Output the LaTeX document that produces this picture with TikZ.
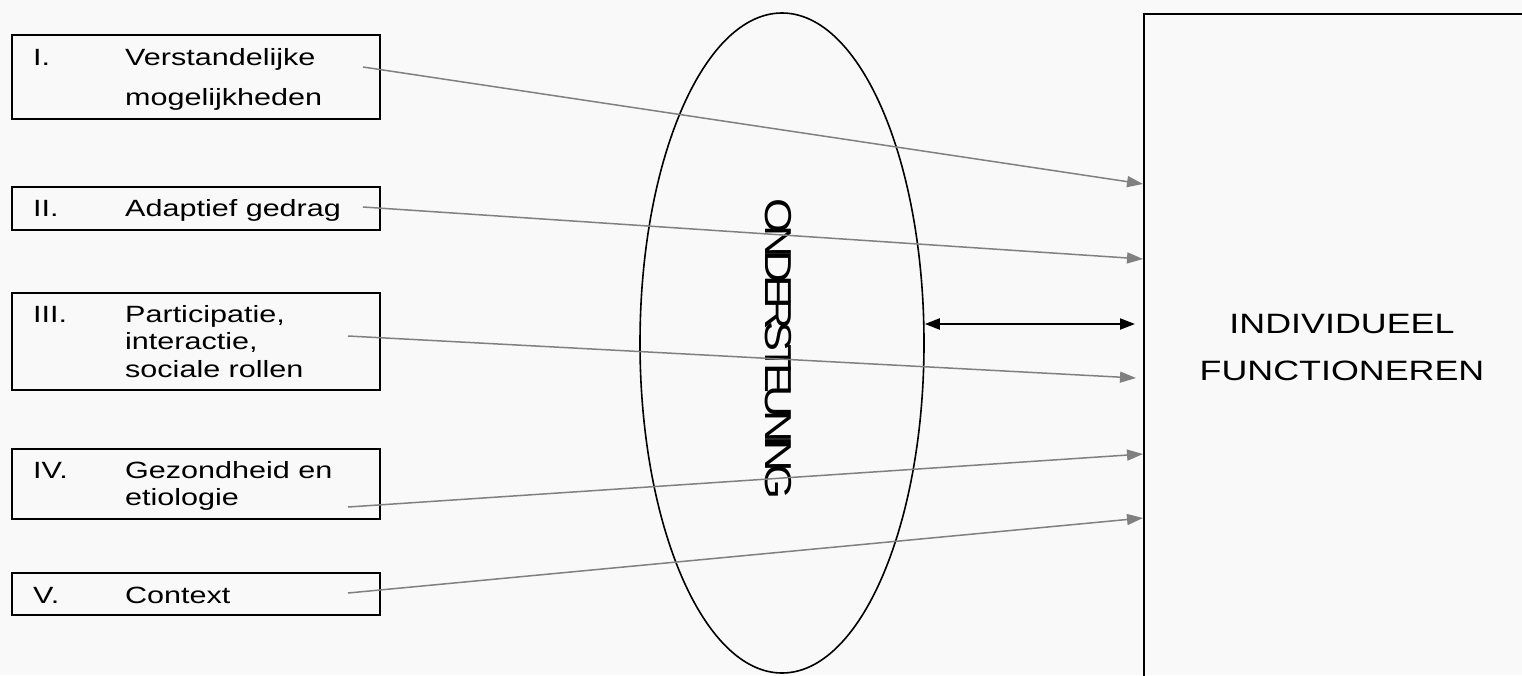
\documentclass[tikz,border=0pt]{standalone}
\usepackage{fontspec}
\setmainfont{Liberation Sans}
\newfontfamily\factorfont[FakeStretch=1.3]{Liberation Sans}
\newfontfamily\wholefont[FakeStretch=1.28]{Liberation Sans}
\newfontfamily\steunfont[FakeStretch=1.2, LetterSpace=-21]{Liberation Sans}
\usetikzlibrary{arrows.meta,shapes.geometric}
\definecolor{bgcol}{RGB}{249,249,249}
\definecolor{linkgray}{RGB}{128,128,128}

\begin{document}
\begin{tikzpicture}[x=1pt, y=-1pt,
  factor/.style={draw, line width=1.8pt, anchor=north west, minimum width=368pt, inner sep=0pt},
  factortext/.style={anchor=base west, inner sep=0pt, font=\factorfont\fontsize{23.5}{27.5}\selectfont},
  link/.style={draw=linkgray, line width=1.5pt, -{Triangle[length=16pt, width=11pt]}, linkgray},
  both/.style={line width=2pt, {Triangle[length=15pt, width=11pt]}-{Triangle[length=15pt, width=11pt]}}]
\useasboundingbox (0,0) rectangle (1522,675);
\fill[bgcol] (0,0) rectangle (1522,675);
\clip (0,0) rectangle (1522,675);

% Factor boxes
\foreach \name/\top/\h in {f1/34/84, f2/186/43, f3/292/97, f4/448/70, f5/572/42} {
  \node[factor, minimum height=\h pt] (\name) at (11,\top) {};
}

\node[factortext] (t1) at (33,65) {\renewcommand{\arraystretch}{1.49}%
  \begin{tabular}[t]{@{}p{92pt}@{}l@{}}I. & Verstandelijke\\ & mogelijkheden\end{tabular}};
\node[factortext] (t2) at (33,216) {\begin{tabular}[t]{@{}p{92pt}@{}l@{}}II. & Adaptief gedrag\end{tabular}};
\node[factortext] (t3) at (33,322) {\begin{tabular}[t]{@{}p{92pt}@{}l@{}}III. & Participatie,\\ & interactie,\\ & sociale rollen\end{tabular}};
\node[factortext] (t4) at (33,478) {\begin{tabular}[t]{@{}p{92pt}@{}l@{}}IV. & Gezondheid en\\ & etiologie\end{tabular}};
\node[factortext] (t5) at (33,603) {\begin{tabular}[t]{@{}p{92pt}@{}l@{}}V. & Context\end{tabular}};

% Support ellipse
\node[draw, ellipse, line width=1.6pt, inner sep=0pt, minimum width=284pt, minimum height=660pt] (steun) at (782,343) {};
\node[rotate=-90, inner sep=0pt, font=\steunfont\fontsize{37.5}{40}\selectfont] (steuntext) at (778,349) {ONDERSTEUNING};

% Individual functioning
\node[draw, line width=1.8pt, anchor=north west, minimum width=500pt, minimum height=800pt] (whole) at (1143,13) {};
\node[anchor=base, inner sep=0pt, font=\wholefont\fontsize{28}{47}\selectfont] (wholetext) at (1342,333)
  {\begin{tabular}[t]{@{}c@{}}INDIVIDUEEL\\FUNCTIONEREN\end{tabular}};

% Arrow ends
\coordinate (s1) at (363,67);  \coordinate (e1) at (1143,184);
\coordinate (s2) at (363,207); \coordinate (e2) at (1143,259);
\coordinate (s3) at (348,336); \coordinate (e3) at (1136,378);
\coordinate (s4) at (348,507); \coordinate (e4) at (1143,454);
\coordinate (s5) at (348,593); \coordinate (e5) at (1143,518);
\coordinate (d2) at (1135,324);

\foreach \i in {1,...,5} {
  \draw[link] (s\i) -- (e\i);
}
\draw[both] (steun.east |- d2) -- (d2);
\end{tikzpicture}
\end{document}
